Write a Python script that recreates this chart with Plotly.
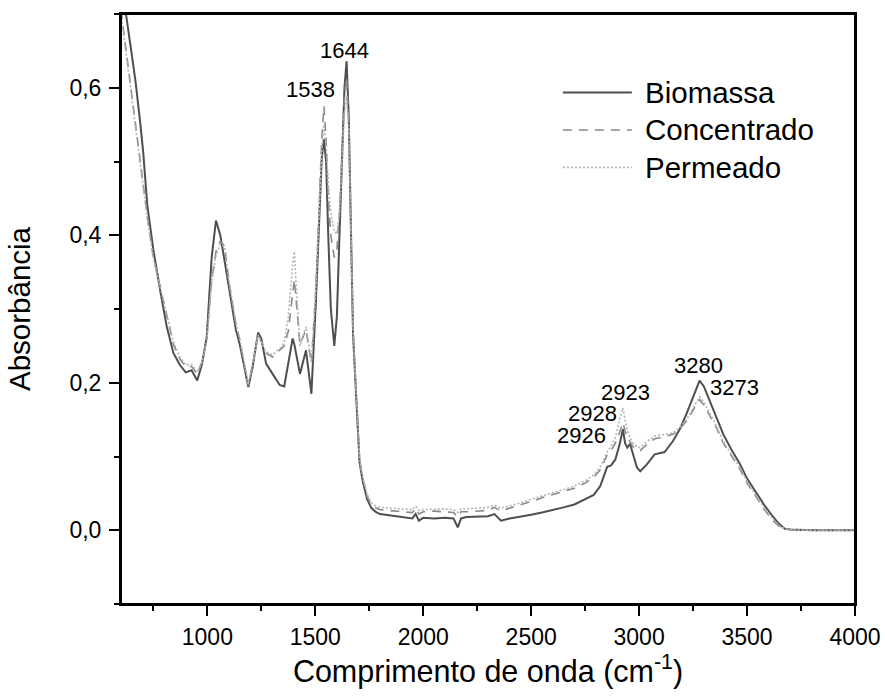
import plotly.graph_objects as go

# ---------------- data ----------------
wavenumber = [
    600, 622, 645, 668, 690, 703, 722, 750, 781, 812,
    843, 873, 900, 927, 953, 975, 997, 1020, 1040, 1060,
    1080, 1101, 1132, 1150, 1170, 1190, 1210, 1235, 1250, 1272,
    1302, 1335, 1356, 1375, 1395, 1403, 1412, 1429, 1457, 1482,
    1503, 1520, 1530, 1540, 1550, 1560, 1572, 1588, 1600, 1612,
    1625, 1635, 1645, 1655, 1665, 1675, 1690, 1705, 1720, 1740,
    1760, 1780, 1800, 1850, 1900, 1950, 1965, 1980, 2000, 2050,
    2100, 2140, 2160, 2175, 2200, 2250, 2300, 2330, 2360, 2400,
    2450, 2500, 2550, 2600, 2650, 2700, 2750, 2790, 2820, 2840,
    2852, 2870, 2890, 2910, 2925, 2935, 2945, 2958, 2972, 2990,
    3005, 3035, 3072, 3118, 3157, 3190, 3220, 3250, 3280, 3300,
    3330, 3360, 3390, 3430, 3467, 3500, 3545, 3580, 3621, 3650,
    3675, 3700, 3800, 3900, 4000,
]

biomassa = [
    0.760, 0.702, 0.655, 0.607, 0.550, 0.512, 0.440, 0.380, 0.326, 0.276,
    0.240, 0.224, 0.214, 0.217, 0.203, 0.225, 0.262, 0.370, 0.420, 0.400,
    0.365, 0.325, 0.272, 0.252, 0.221, 0.194, 0.222, 0.268, 0.260, 0.226,
    0.212, 0.197, 0.195, 0.225, 0.260, 0.252, 0.238, 0.212, 0.244, 0.185,
    0.312, 0.450, 0.505, 0.530, 0.500, 0.400, 0.300, 0.250, 0.290, 0.400,
    0.520, 0.600, 0.636, 0.560, 0.410, 0.265, 0.178, 0.092, 0.066, 0.042,
    0.030, 0.025, 0.022, 0.020, 0.018, 0.016, 0.022, 0.013, 0.017, 0.016,
    0.017, 0.016, 0.004, 0.016, 0.018, 0.018, 0.019, 0.022, 0.013, 0.016,
    0.018, 0.021, 0.024, 0.027, 0.031, 0.035, 0.042, 0.048, 0.060, 0.078,
    0.086, 0.088, 0.096, 0.117, 0.137, 0.118, 0.112, 0.117, 0.103, 0.085,
    0.080, 0.089, 0.103, 0.106, 0.121, 0.138, 0.158, 0.180, 0.203, 0.195,
    0.174, 0.152, 0.130, 0.108, 0.090, 0.070, 0.050, 0.034, 0.018, 0.008,
    0.002, 0.001, 0.000, 0.000, 0.000,
]

concentrado = [
    0.705, 0.655, 0.605, 0.555, 0.500, 0.470, 0.425, 0.370, 0.330, 0.289,
    0.252, 0.232, 0.222, 0.222, 0.212, 0.228, 0.258, 0.340, 0.378, 0.392,
    0.385, 0.335, 0.280, 0.258, 0.226, 0.196, 0.225, 0.266, 0.255, 0.240,
    0.235, 0.244, 0.250, 0.270, 0.320, 0.340, 0.310, 0.252, 0.272, 0.226,
    0.330, 0.460, 0.530, 0.575, 0.530, 0.450, 0.400, 0.370, 0.380, 0.430,
    0.520, 0.590, 0.615, 0.560, 0.410, 0.270, 0.182, 0.095, 0.070, 0.046,
    0.034, 0.030, 0.028, 0.026, 0.025, 0.024, 0.030, 0.022, 0.025, 0.026,
    0.025, 0.024, 0.018, 0.025, 0.025, 0.026, 0.027, 0.031, 0.026, 0.030,
    0.034, 0.039, 0.044, 0.048, 0.052, 0.057, 0.064, 0.072, 0.082, 0.094,
    0.102, 0.108, 0.118, 0.133, 0.146, 0.135, 0.125, 0.120, 0.113, 0.109,
    0.108, 0.116, 0.124, 0.127, 0.130, 0.138, 0.148, 0.163, 0.177, 0.170,
    0.155, 0.138, 0.118, 0.100, 0.083, 0.064, 0.043, 0.028, 0.013, 0.005,
    0.002, 0.001, 0.000, 0.000, 0.000,
]

permeado = [
    0.700, 0.650, 0.600, 0.552, 0.498, 0.468, 0.422, 0.368, 0.330, 0.290,
    0.255, 0.235, 0.224, 0.225, 0.214, 0.228, 0.256, 0.335, 0.372, 0.388,
    0.384, 0.336, 0.282, 0.260, 0.228, 0.198, 0.226, 0.265, 0.256, 0.242,
    0.238, 0.246, 0.255, 0.290, 0.360, 0.378, 0.330, 0.250, 0.276, 0.228,
    0.330, 0.450, 0.515, 0.550, 0.525, 0.470, 0.430, 0.405, 0.402, 0.430,
    0.500, 0.565, 0.588, 0.545, 0.410, 0.272, 0.184, 0.097, 0.072, 0.049,
    0.037, 0.033, 0.031, 0.030, 0.029, 0.028, 0.033, 0.027, 0.028, 0.029,
    0.029, 0.028, 0.024, 0.029, 0.029, 0.030, 0.031, 0.034, 0.030, 0.033,
    0.037, 0.042, 0.047, 0.051, 0.055, 0.060, 0.067, 0.075, 0.086, 0.098,
    0.106, 0.114, 0.126, 0.150, 0.166, 0.150, 0.135, 0.126, 0.118, 0.113,
    0.112, 0.120, 0.128, 0.130, 0.132, 0.140, 0.150, 0.166, 0.181, 0.174,
    0.158, 0.140, 0.120, 0.102, 0.085, 0.066, 0.045, 0.030, 0.015, 0.006,
    0.002, 0.001, 0.000, 0.000, 0.000,
]

series_names = ["Biomassa", "Concentrado", "Permeado"]

peak_labels = ["1644", "1538", "3280", "3273", "2923", "2928", "2926"]
peak_label_x = [1635, 1480, 3277, 3440, 2939, 2782, 2731]
peak_label_y = [0.651, 0.597, 0.224, 0.194, 0.187, 0.158, 0.128]

x_title = "Comprimento de onda (cm<sup>-1</sup>)"
y_title = "Absorbância"

assert len(wavenumber) == len(biomassa) == len(concentrado) == len(permeado)

# ---------------- styling ----------------
FONT = "Liberation Sans, Arial, sans-serif"
styles = [
    dict(color="#4f4f4f", width=2.0, dash="solid"),
    dict(color="#8a8a8a", width=1.6, dash="9px,7px"),
    dict(color="#b4b4b4", width=1.6, dash="2px,2px"),
]

fig = go.Figure()
for name, values, st in zip(series_names, [biomassa, concentrado, permeado], styles):
    fig.add_trace(go.Scatter(x=wavenumber, y=values, mode="lines", name=name,
                             line=st, showlegend=False))

# peak annotations
for txt, px, py in zip(peak_labels, peak_label_x, peak_label_y):
    fig.add_annotation(x=px, y=py, text=txt, showarrow=False,
                       xanchor="center", yanchor="middle",
                       font=dict(family=FONT, size=22, color="black"))

# manual legend (long sample lines as in the reference)
legend_rows_y = [0.867, 0.8035, 0.740]
for name, st, ry in zip(series_names, styles, legend_rows_y):
    fig.add_shape(type="line", xref="paper", yref="paper",
                  x0=0.602, x1=0.696, y0=ry, y1=ry,
                  line=dict(color=st["color"], width=st["width"], dash=st["dash"]))
    fig.add_annotation(xref="paper", yref="paper", x=0.711, y=ry, text=name,
                       showarrow=False, xanchor="left", yanchor="middle",
                       font=dict(family=FONT, size=29.5, color="black"))

# frame around the plot area
fig.add_shape(type="rect", xref="paper", yref="paper", x0=0, x1=1, y0=0, y1=1,
              line=dict(color="black", width=2), layer="above")

axis_common = dict(
    showline=True, linecolor="black", linewidth=2, mirror=True,
    ticks="outside", ticklen=10, tickwidth=1.5, tickcolor="black",
    showgrid=False, zeroline=False, ticklabeloverflow="allow",
    automargin=False,
    tickfont=dict(family=FONT, size=23, color="black"),
)

fig.update_layout(
    width=885, height=698, autosize=False,
    margin=dict(l=121, r=30, t=14, b=94),
    paper_bgcolor="white", plot_bgcolor="white",
    separators=",.",
    font=dict(family=FONT, color="black"),
    xaxis=dict(
        range=[600, 4000], tick0=0, dtick=500, tickformat="d",
        ticklabelstandoff=1,
        minor=dict(ticks="outside", ticklen=5, dtick=250, tick0=0, tickcolor="black", tickwidth=1.5),
        title=dict(text=x_title, font=dict(family=FONT, size=30.5, color="black"), standoff=12),
        **axis_common,
    ),
    yaxis=dict(
        range=[-0.1, 0.7], tick0=0, dtick=0.2, tickformat=".1f",
        ticklabelstandoff=3,
        minor=dict(ticks="outside", ticklen=5, dtick=0.1, tick0=0, tickcolor="black", tickwidth=1.5),
        title=dict(text=y_title, font=dict(family=FONT, size=29.5, color="black"), standoff=30),
        **axis_common,
    ),
)

# remove the browser's default 8px body margin so the figure sits at the window origin
fig.write_html(
    "out.html",
    config={"responsive": False, "displayModeBar": False},
    post_script="document.body.style.margin='0';",
)
